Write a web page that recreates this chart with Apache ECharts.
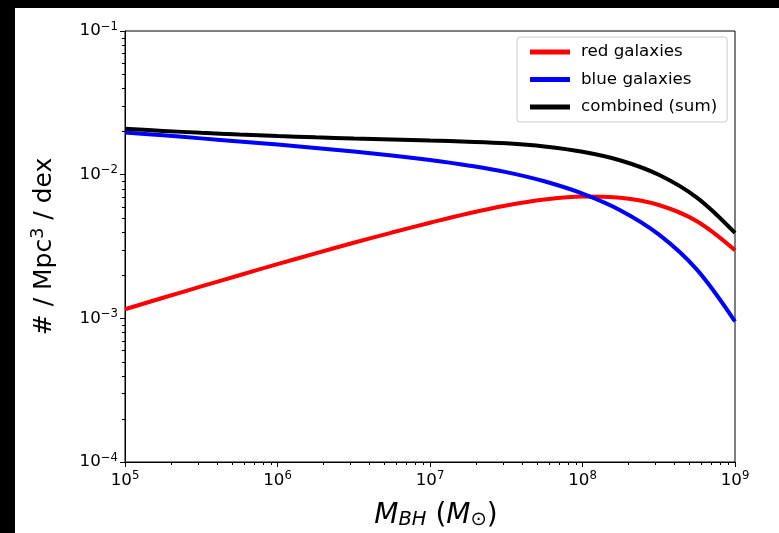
<!DOCTYPE html>
<html>
<head>
<meta charset="utf-8">
<script src="https://cdn.jsdelivr.net/npm/echarts@6/dist/echarts.min.js"></script>
<style>
  html, body { margin: 0; padding: 0; background: #000; }
  #chart { width: 779px; height: 533px; }
</style>
</head>
<body>
<div id="chart"></div>
<script>
// Black hole mass function, split by host galaxy colour
const logMass = [5.0, 5.25, 5.5, 5.75, 6.0, 6.25, 6.5, 6.75, 7.0, 7.25, 7.5, 7.75, 8.0, 8.25, 8.5, 8.75, 9.0];
const redGalaxies = [1.156e-3, 1.390e-3, 1.667e-3, 1.995e-3, 2.382e-3, 2.835e-3, 3.357e-3, 3.954e-3, 4.624e-3,
                     5.370e-3, 6.101e-3, 6.712e-3, 7.046e-3, 6.912e-3, 6.148e-3, 4.742e-3, 2.979e-3];
const blueGalaxies = [1.968e-2, 1.878e-2, 1.789e-2, 1.703e-2, 1.619e-2, 1.535e-2, 1.450e-2, 1.361e-2, 1.264e-2,
                      1.159e-2, 1.042e-2, 8.993e-3, 7.378e-3, 5.636e-3, 3.836e-3, 2.182e-3, 9.504e-4];
const combinedSum = [2.0836e-2, 2.017e-2, 1.9557e-2, 1.9025e-2, 1.8572e-2, 1.8185e-2, 1.7857e-2, 1.7564e-2, 1.7264e-2,
                     1.696e-2, 1.6521e-2, 1.5705e-2, 1.4424e-2, 1.2548e-2, 9.984e-3, 6.924e-3, 3.929e-3];

const seriesNames = ['red galaxies', 'blue galaxies', 'combined (sum)'];
const seriesColors = ['#ff0000', '#0000ff', '#000000'];
const seriesValues = [redGalaxies, blueGalaxies, combinedSum];

// decade range of each axis (exponents)
const xDecades = [5, 9];
const yDecades = [-4, -1];
const xMin = Math.pow(10, xDecades[0]), xMax = Math.pow(10, xDecades[1]);
const yMin = Math.pow(10, yDecades[0]), yMax = Math.pow(10, yDecades[1]);

// minor tick values 2..9 x 10^e inside each decade
function minorTicks(lo, hi) {
  const out = [];
  for (let e = lo; e < hi; e++) {
    for (let k = 2; k <= 9; k++) out.push(k * Math.pow(10, e));
  }
  return out;
}

const FONT = 'DejaVu Sans';
const powerLabel = v => {
  const e = Math.round(Math.log10(v));
  return '{b|10}{s|' + (e < 0 ? '\u2212' + (-e) : e) + '}';
};
const powerRich = {
  b: { fontFamily: FONT, fontSize: 16.7, color: '#000' },
  s: { fontFamily: FONT, fontSize: 11.7, color: '#000', padding: [0, 0, 9, 0] }
};

const grid = { left: 125, top: 31, width: 610, height: 431 };
const MINOR_LEN = 3;
const frameDecor = [
  { type: 'rect', shape: { x: 0, y: 0, width: 779, height: 8 }, style: { fill: '#000' }, z: 100 },
  { type: 'rect', shape: { x: 0, y: 0, width: 15, height: 533 }, style: { fill: '#000' }, z: 100 }
];

const chart = echarts.init(document.getElementById('chart'), null, { renderer: 'canvas' });

chart.setOption({
  backgroundColor: '#ffffff',
  animation: false,
  graphic: frameDecor,
  grid: Object.assign({
    show: true, borderColor: '#000', borderWidth: 1, backgroundColor: 'transparent',
    containLabel: false, outerBoundsMode: 'none'
  }, grid),
  legend: {
    data: seriesNames,
    orient: 'vertical',
    left: 517,
    top: 37,
    padding: [5, 10, 5, 13],
    itemGap: 7.5,
    itemWidth: 40,
    itemHeight: 5,
    icon: 'rect',
    backgroundColor: '#fff',
    borderColor: '#cccccc',
    borderWidth: 1,
    borderRadius: 3,
    textStyle: { fontFamily: FONT, fontSize: 16.7, color: '#000', lineHeight: 20, padding: [0, 0, 0, 6] }
  },
  xAxis: {
    type: 'log',
    logBase: 10,
    min: xMin,
    max: xMax,
    interval: 1,
    name: '{i|M}{sub|BH}{n| (}{i|M}{sub2|\u2299}{n|)}',
    nameLocation: 'middle',
    nameGap: 39,
    nameTextStyle: {
      padding: [0, 0, 0, 12],
      rich: {
        i: { fontFamily: FONT, fontStyle: 'italic', fontSize: 28, color: '#000' },
        n: { fontFamily: FONT, fontSize: 28, color: '#000' },
        sub: { fontFamily: FONT, fontStyle: 'italic', fontSize: 19.5, color: '#000', padding: [9, 0, 0, 0] },
        sub2: { fontFamily: FONT, fontSize: 19.5, color: '#000', padding: [9, 0, 0, 0] }
      }
    },
    axisLine: { show: true, lineStyle: { color: '#000', width: 1 } },
    axisTick: { show: true, inside: false, length: 5, lineStyle: { color: '#000', width: 1 } },
    axisLabel: { formatter: powerLabel, rich: powerRich, margin: 8 },
    splitLine: { show: false },
    minorTick: { show: false }
  },
  yAxis: {
    type: 'log',
    logBase: 10,
    min: yMin,
    max: yMax,
    interval: 1,
    name: '# / Mpc{sup|3} / dex',
    nameLocation: 'middle',
    nameRotate: 90,
    nameGap: 66,
    nameTextStyle: {
      fontFamily: FONT, fontSize: 25, color: '#000',
      rich: { sup: { fontFamily: FONT, fontSize: 17.5, color: '#000', padding: [0, 0, 12, 0] } }
    },
    axisLine: { show: true, lineStyle: { color: '#000', width: 1 } },
    axisTick: { show: true, inside: false, length: 5, lineStyle: { color: '#000', width: 1 } },
    axisLabel: { formatter: powerLabel, rich: powerRich, margin: 7 },
    splitLine: { show: false },
    minorTick: { show: false }
  },
  series: seriesNames.map((name, i) => ({
    name: name,
    type: 'line',
    data: logMass.map((lm, j) => [Math.pow(10, lm), seriesValues[i][j]]),
    showSymbol: false,
    symbol: 'none',
    smooth: 0.35,
    clip: true,
    color: seriesColors[i],
    lineStyle: { color: seriesColors[i], width: 4 },
    itemStyle: { color: seriesColors[i] },
    z: 2 + i
  }))
});

// minor ticks (2..9 within each decade), positioned through the axis scales
const minorMarks = [];
minorTicks(xDecades[0], xDecades[1]).forEach(v => {
  const p = chart.convertToPixel({ gridIndex: 0 }, [v, yMin]);
  const x = Math.round(p[0]) + 0.5, y = Math.round(p[1]);
  minorMarks.push({ type: 'line', shape: { x1: x, y1: y, x2: x, y2: y + MINOR_LEN }, style: { stroke: '#000', lineWidth: 1 }, z: 50 });
});
minorTicks(yDecades[0], yDecades[1]).forEach(v => {
  const p = chart.convertToPixel({ gridIndex: 0 }, [xMin, v]);
  const x = Math.round(p[0]), y = Math.round(p[1]) + 0.5;
  minorMarks.push({ type: 'line', shape: { x1: x - MINOR_LEN, y1: y, x2: x, y2: y }, style: { stroke: '#000', lineWidth: 1 }, z: 50 });
});
chart.setOption({ graphic: frameDecor.concat(minorMarks) }, { replaceMerge: ['graphic'] });
</script>
</body>
</html>
